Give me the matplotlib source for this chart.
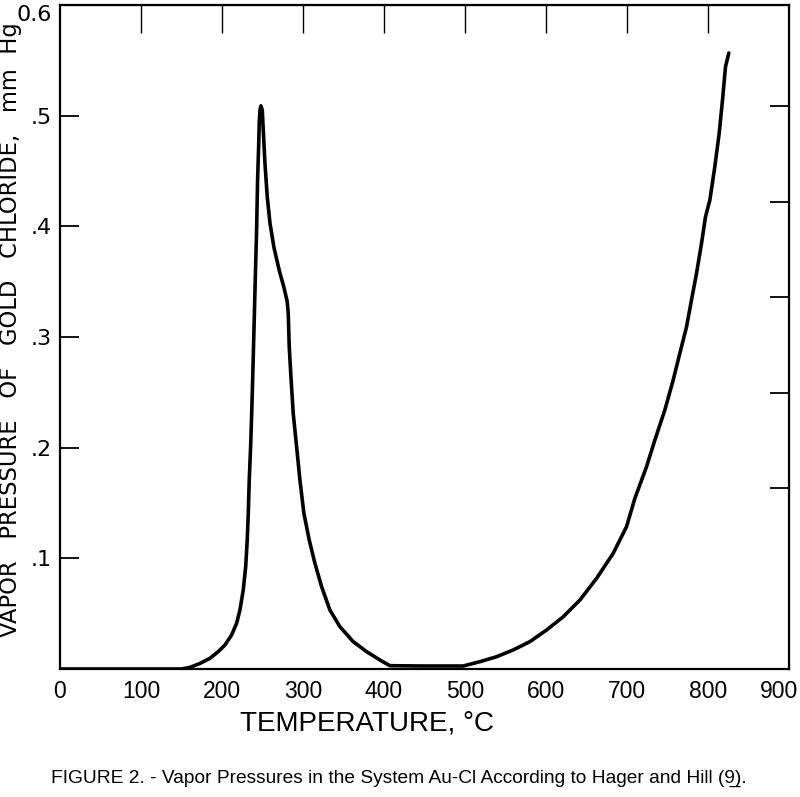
import matplotlib
matplotlib.use("Agg")
import matplotlib.pyplot as plt
from matplotlib.transforms import ScaledTranslation

# vapor pressure of gold chloride (mm Hg)
temp_c = [0, 100, 150, 160.5, 172.8, 185.2, 195.4, 203.7, 211.9, 218.1, 222.2,
          226.3, 229.3, 231.2, 232.5, 233.7, 235.4, 236.7, 237.9, 239.5, 241.1,
          242.8, 244.0, 245.3, 246.0, 246.9, 248.1, 249.8, 251.0, 253.1, 255.9,
          259.3, 264.2, 270.8, 276.5, 280.6, 281.9, 283.1, 285.2, 288.0, 292.2,
          296.3, 301.2, 307.8, 314.8, 323.1, 333.3, 345.7, 362.1, 378.6, 395.1,
          407.4, 450, 497.9, 518.5, 539.1, 559.7, 580.2, 600.8, 621.4, 642.0,
          662.6, 683.1, 699.6, 709.9, 724.3, 734.6, 746.9, 757.2, 765.4, 773.7,
          779.8, 786.0, 792.2, 797.1, 802.5, 808.6, 814.0, 818.1, 821.8, 825.9]
pressure = [0, 0, 0, 0.0015, 0.005, 0.0097, 0.0157, 0.0217, 0.0307, 0.0413,
            0.0533, 0.0714, 0.0924, 0.1165, 0.1406, 0.1707, 0.2008, 0.2309,
            0.2611, 0.306, 0.351, 0.397, 0.442, 0.472, 0.493, 0.505, 0.509,
            0.505, 0.487, 0.457, 0.427, 0.403, 0.381, 0.360, 0.345, 0.332,
            0.321, 0.291, 0.264, 0.231, 0.2008, 0.1707, 0.1406, 0.1165, 0.0955,
            0.0743, 0.0533, 0.0382, 0.0247, 0.0157, 0.0081, 0.0030, 0.0027,
            0.0027, 0.0066, 0.0111, 0.0172, 0.0247, 0.0352, 0.0472, 0.0623,
            0.0819, 0.1045, 0.1286, 0.1542, 0.1828, 0.2069, 0.2340, 0.2611,
            0.2852, 0.3092, 0.3333, 0.3574, 0.3846, 0.4086, 0.4237, 0.4538,
            0.4839, 0.5140, 0.5441, 0.5567]

x_ticks = [0, 100, 200, 300, 400, 500, 600, 700, 800, 900]
x_labels = ["0", "100", "200", "300", "400", "500", "600", "700", "800", "900"]
x_bottom_marks = [100, 200, 300, 600, 700, 800]
x_top_marks = [100, 200, 300, 400, 500, 600, 700, 800]
y_ticks = [0.1, 0.2, 0.3, 0.4, 0.5, 0.6]
y_labels = [".1", ".2", ".3", ".4", ".5", "0.6"]
y_right_marks = [0.1635, 0.2493, 0.336, 0.4219, 0.5086]

narrow = ["Liberation Sans", "DejaVu Sans"]

fig = plt.figure(figsize=(8, 7.97), dpi=100)
ax = fig.add_axes([0.075, 0.1606, 0.911, 0.833])

ax.plot(temp_c, pressure, color="black", linewidth=2.6,
        solid_capstyle="round", solid_joinstyle="round")

ax.set_xlim(0, 900)
ax.set_ylim(0, 0.6)
for s in ax.spines.values():
    s.set_linewidth(1.6)

ax.set_xticks(x_ticks)
ax.set_xticklabels(x_labels, family=narrow, fontsize=16.5)
ax.set_xticks(x_bottom_marks, minor=True)
ax.tick_params(axis="x", which="major", length=0, pad=8)
ax.tick_params(axis="x", which="minor", direction="in", length=20, width=1.0)
# last label sits against the right edge, nudge it in a little
last = ax.get_xticklabels()[-1]
last.set_transform(last.get_transform() + ScaledTranslation(-0.1, 0, fig.dpi_scale_trans))

ax.set_yticks(y_ticks)
ax.set_yticklabels(y_labels, family="DejaVu Sans", fontsize=16)
ax.tick_params(axis="y", direction="in", length=14, width=1.3, pad=6)
ax.get_yticklabels()[-1].set_va("top")

top = ax.secondary_xaxis("top")
top.set_xticks(x_top_marks)
top.set_xticklabels([])
top.tick_params(direction="in", length=20, width=1.0)

right = ax.secondary_yaxis("right")
right.set_yticks(y_right_marks)
right.set_yticklabels([])
right.tick_params(direction="in", length=14, width=1.3)

fig.text(0.459, 1 - 724 / 797, "TEMPERATURE, °C", family=narrow, fontsize=20,
         ha="center", va="center")
fig.text(0.013, 1 - 330 / 797,
         "VAPOR   PRESSURE   OF   GOLD   CHLORIDE,   mm  Hg",
         family="DejaVu Sans", fontsize=16.3, rotation=90, ha="center", va="center")
fig.text(0.499, 1 - 778 / 797,
         "FIGURE 2. - Vapor Pressures in the System Au-Cl According to Hager and Hill (9\u0332).",
         family=narrow, fontsize=13.8, ha="center", va="center")

fig.savefig("out.png", dpi=100)
